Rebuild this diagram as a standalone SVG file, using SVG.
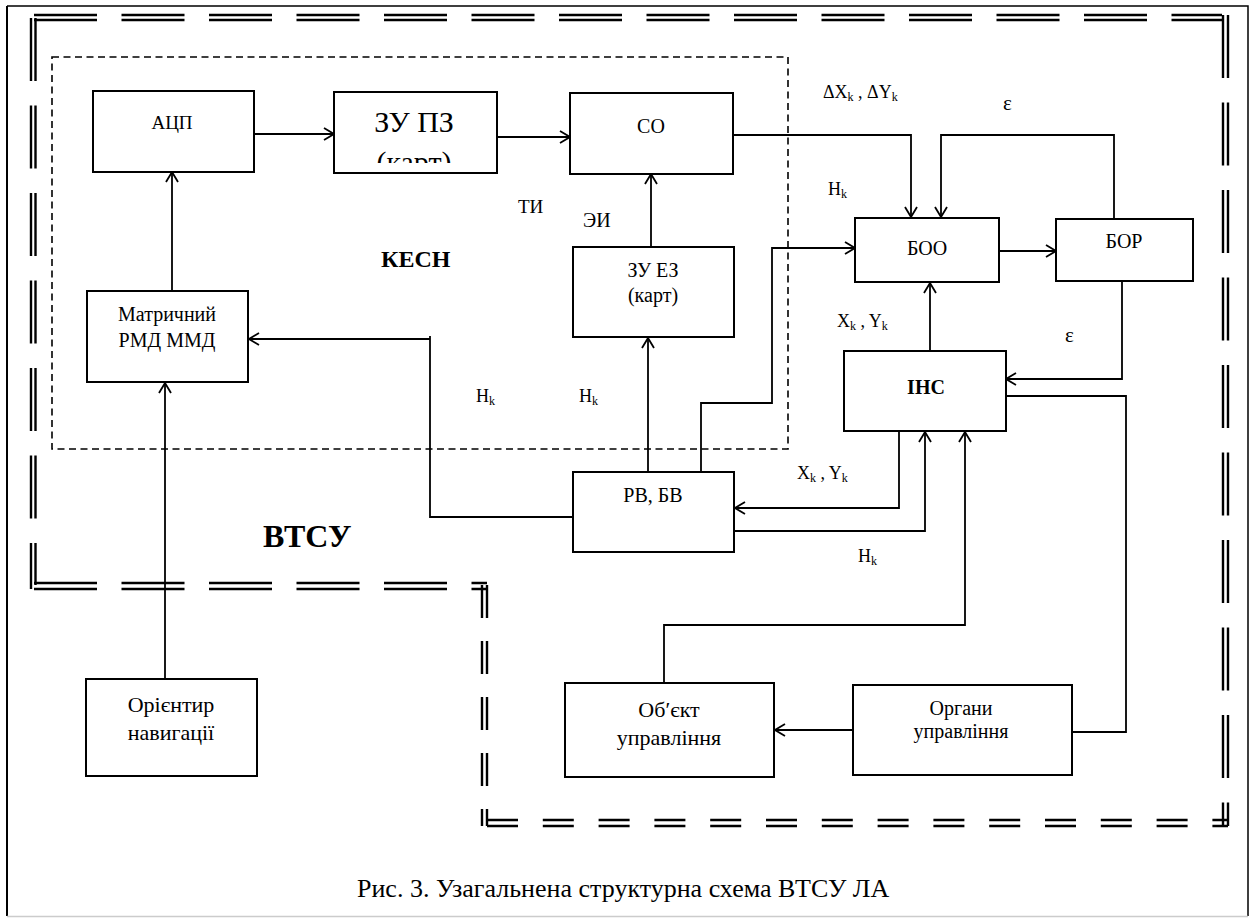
<svg xmlns="http://www.w3.org/2000/svg" width="1252" height="918" viewBox="0 0 1252 918">
<style>
text{font-family:"Liberation Serif","Times New Roman",serif;fill:#000}
.box{fill:#fff;stroke:#000;stroke-width:2}
.c{fill:none;stroke:#000;stroke-width:1.8}
.a{marker-end:url(#arr)}
.dd{fill:none;stroke:#000;stroke-width:2.4}
.t{stroke-dasharray:63 24.5}
.s{stroke-dasharray:33 23}
.b{stroke-dasharray:31 24.8}
.m{text-anchor:middle}
</style>
<defs>
<marker id="arr" viewBox="0 0 12 14" refX="11" refY="7" markerWidth="12" markerHeight="14" markerUnits="userSpaceOnUse" orient="auto">
<path d="M1,1 L11,7 L1,13" fill="none" stroke="#000" stroke-width="1.8"/>
</marker>
<clipPath id="clipz"><rect x="335" y="93" width="161" height="70"/></clipPath>
</defs>
<rect width="1252" height="918" fill="#fff"/>
<g id="frame">
<path d="M7,6 H1248 V916" fill="none" stroke="#000" stroke-width="1.5"/>
<path d="M7,6 V916" fill="none" stroke="#000" stroke-width="2"/>
<path d="M7,916.5 H1248" fill="none" stroke="#ccc" stroke-width="1.5"/>
</g>
<g id="vtsu-frame">
<path class="dd t" d="M34,15 H1222"/>
<path class="dd t" d="M34,20 H1222"/>
<path class="dd t" d="M31,18 V589"/>
<path class="dd t" d="M35.5,18 V585"/>
<path class="dd t" d="M34,583 H487"/>
<path class="dd t" d="M34,589 H487"/>
<path class="dd t" d="M1223,15 V826"/>
<path class="dd t" d="M1228,15 V826"/>
<path class="dd s" d="M482,585 V826"/>
<path class="dd s" d="M487,585 V826"/>
<path class="dd b" d="M487,820 H1228"/>
<path class="dd b" d="M487,826 H1228"/>
</g>
<g id="kesn-frame">
<rect x="52" y="57" width="736" height="392" fill="none" stroke="#000" stroke-width="1.6" stroke-dasharray="7 4.5"/>
</g>
<g id="connectors">
<path class="c a" d="M172,291 V172"/>
<path class="c a" d="M254,134 H334"/>
<path class="c a" d="M497,137 H570"/>
<path class="c a" d="M651,247 V174"/>
<path class="c a" d="M733,135 H911 V217"/>
<path class="c a" d="M1114,219 V135 H941 V217"/>
<path class="c a" d="M999,251 H1056"/>
<path class="c a" d="M701,472 V403 H772 V248 H855"/>
<path class="c a" d="M930,351 V283"/>
<path class="c a" d="M1122,281 V379 H1006"/>
<path class="c" d="M1006,396 H1126 V732 H1072"/>
<path class="c a" d="M853,730 H775"/>
<path class="c a" d="M664,683 V625 H965 V432"/>
<path class="c a" d="M899,431 V508 H735"/>
<path class="c a" d="M734,531 H925 V432"/>
<path class="c a" d="M648,472 V338"/>
<path class="c a" d="M573,517 H430 V336 M430,339 H249"/>
<path class="c a" d="M165,679 V383"/>
</g>
<g id="acp"><rect class="box" x="93" y="91" width="161" height="81"/><text class="m" x="172" y="129" font-size="19">АЦП</text></g>
<g id="zupz"><rect class="box" x="334" y="92" width="163" height="81"/><text class="m" x="414" y="132" font-size="30">ЗУ ПЗ</text><text class="m" x="414" y="172" font-size="30" clip-path="url(#clipz)">(карт)</text></g>
<g id="co"><rect class="box" x="570" y="93" width="163" height="81"/><text class="m" x="651" y="133" font-size="20">СО</text></g>
<g id="zuez"><rect class="box" x="573" y="247" width="161" height="90"/><text class="m" x="653" y="277" font-size="20">ЗУ ЕЗ</text><text class="m" x="653" y="302" font-size="20">(карт)</text></g>
<g id="matrix"><rect class="box" x="87" y="291" width="161" height="91"/><text class="m" x="167" y="321" font-size="20">Матричний</text><text class="m" x="167" y="347" font-size="20">РМД ММД</text></g>
<g id="rvbv"><rect class="box" x="573" y="472" width="161" height="80"/><text class="m" x="653" y="502" font-size="20">РВ, БВ</text></g>
<g id="boo"><rect class="box" x="855" y="218" width="144" height="64"/><text class="m" x="927" y="255" font-size="20">БОО</text></g>
<g id="bor"><rect class="box" x="1056" y="219" width="137" height="62"/><text class="m" x="1124" y="248" font-size="20">БОР</text></g>
<g id="ins"><rect class="box" x="844" y="351" width="162" height="80"/><text class="m" x="926" y="394" font-size="20" font-weight="bold">ІНС</text></g>
<g id="orient"><rect class="box" x="86" y="679" width="171" height="97"/><text class="m" x="171" y="712" font-size="22">Орієнтир</text><text class="m" x="171" y="740" font-size="22">навигації</text></g>
<g id="obj"><rect class="box" x="565" y="683" width="209" height="94"/><text class="m" x="669" y="717" font-size="22">Об′єкт</text><text class="m" x="669" y="745" font-size="22">управління</text></g>
<g id="organs"><rect class="box" x="853" y="685" width="219" height="90"/><text class="m" x="961" y="715" font-size="20">Органи</text><text class="m" x="961" y="738" font-size="20">управління</text></g>
<g id="labels" font-size="18">
<text x="518" y="213" font-size="19">ТИ</text>
<text x="583" y="227" font-size="20">ЭИ</text>
<text x="381" y="267" font-size="24" font-weight="bold">КЕСН</text>
<text x="263" y="547" font-size="32" font-weight="bold">ВТСУ</text>
<text x="823" y="98">ΔX<tspan font-size="12" dy="3">k</tspan><tspan dy="-3"> , ΔY</tspan><tspan font-size="12" dy="3">k</tspan></text>
<text x="1003" y="110" font-size="21">ε</text>
<text x="828" y="195">H<tspan font-size="12" dy="3">k</tspan></text>
<text x="837" y="327">X<tspan font-size="12" dy="3">k</tspan><tspan dy="-3"> , Y</tspan><tspan font-size="12" dy="3">k</tspan></text>
<text x="1065" y="342" font-size="21">ε</text>
<text x="797" y="479">X<tspan font-size="12" dy="3">k</tspan><tspan dy="-3"> , Y</tspan><tspan font-size="12" dy="3">k</tspan></text>
<text x="858" y="562">H<tspan font-size="12" dy="3">k</tspan></text>
<text x="476" y="402">H<tspan font-size="12" dy="3">k</tspan></text>
<text x="579" y="402">H<tspan font-size="12" dy="3">k</tspan></text>
<text x="357" y="897" font-size="26">Рис. 3. Узагальнена структурна схема ВТСУ ЛА</text>
</g>
</svg>
